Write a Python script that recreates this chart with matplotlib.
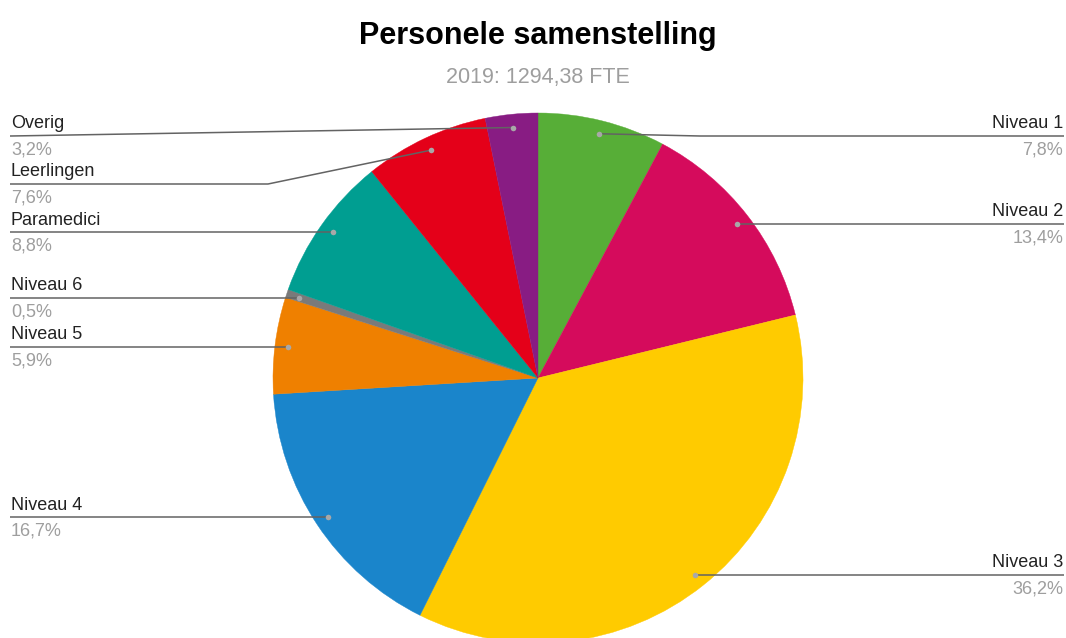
import matplotlib
matplotlib.use("Agg")
import matplotlib.pyplot as plt
import numpy as np

plt.rcParams['font.family'] = ['Liberation Sans', 'DejaVu Sans']

title = "Personele samenstelling"
subtitle = "2019: 1294,38 FTE"

categories = ["Niveau 1", "Niveau 2", "Niveau 3", "Niveau 4", "Niveau 5",
              "Niveau 6", "Paramedici", "Leerlingen", "Overig"]
shares = [7.8, 13.4, 36.2, 16.7, 5.9, 0.5, 8.8, 7.6, 3.2]
colors = ["#57ae37", "#d50b5c", "#ffcb00", "#1a85cb", "#ef8000",
          "#7a7a7a", "#009e91", "#e40019", "#881c83"]

# label layout (pixels, y measured from the top)
W, H = 1066, 638
cx, cy, R = 538, 378, 265
label_side = ["right", "right", "right", "left", "left", "left", "left", "left", "left"]
line_y = [136, None, None, None, None, None, None, 184, 136]
elbow_x = [700, None, None, None, None, None, None, 268, 11]

fig = plt.figure(figsize=(W / 100, H / 100), dpi=100)
ax = fig.add_axes([0, 0, 1, 1])

wedges, _ = ax.pie(shares, colors=colors, startangle=90, counterclock=False,
                   center=(cx, H - cy), radius=R,
                   wedgeprops=dict(linewidth=0.3))
for w, c in zip(wedges, colors):
    w.set_edgecolor(c)

# leader lines, dots and the two-line labels
for i, w in enumerate(wedges):
    mid = np.deg2rad((w.theta1 + w.theta2) / 2)
    dx = cx + 0.95 * R * np.cos(mid)
    dy = (H - cy) + 0.95 * R * np.sin(mid)
    ly = H - line_y[i] if line_y[i] is not None else dy
    ex = elbow_x[i] if elbow_x[i] is not None else dx
    if label_side[i] == "right":
        xs = [dx, ex, 1064]
        tx, ha = 1063, "right"
    else:
        xs = [dx, ex, 10]
        tx, ha = 11, "left"
    ax.plot(xs, [dy, ly, ly], color="#636363", lw=1.1, solid_capstyle="butt", zorder=3)
    ax.plot(dx, dy, "o", ms=4, color="#a8a8a8", mec="none", zorder=4)
    ax.text(tx, ly + 12, categories[i], ha=ha, va="center", fontsize=13, color="#222222")
    ax.text(tx, ly - 14, f"{shares[i]:.1f}".replace(".", ",") + "%", ha=ha, va="center",
            fontsize=13, color="#9e9e9e")

ax.text(W / 2 + 5, H - 36, title, ha="center", va="center", fontsize=22,
        fontweight="bold", color="#000000")
ax.text(W / 2 + 5, H - 78, subtitle, ha="center", va="center", fontsize=15.5,
        color="#9e9e9e")

ax.set_xlim(0, W)
ax.set_ylim(0, H)
ax.set_aspect("equal")
ax.axis("off")

fig.savefig("out.png", dpi=100, facecolor="white")
